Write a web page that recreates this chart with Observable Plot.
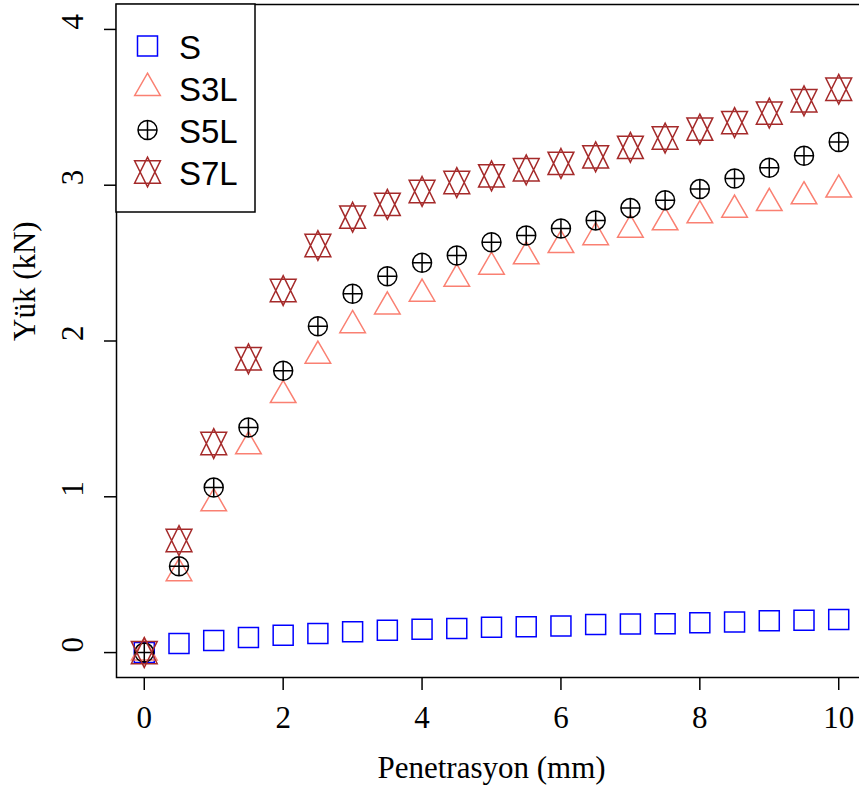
<!DOCTYPE html>
<html>
<head>
<meta charset="utf-8">
<script src="https://cdn.jsdelivr.net/npm/d3@7"></script>
<script src="https://cdn.jsdelivr.net/npm/@observablehq/plot@0.6"></script>
<style>
  html, body { margin: 0; padding: 0; background: white; overflow: hidden; }
  svg g[aria-label$="tick"] { stroke-width: 1.5; }
</style>
</head>
<body>
<div id="chart"></div>
<script>
// ---- data ----
const penetration = [0, 0.5, 1, 1.5, 2, 2.5, 3, 3.5, 4, 4.5, 5, 5.5, 6, 6.5, 7, 7.5, 8, 8.5, 9, 9.5, 10];
const seriesNames = ["S", "S3L", "S5L", "S7L"];
const valuesS   = [0, 0.058, 0.077, 0.096, 0.111, 0.122, 0.134, 0.143, 0.149, 0.154, 0.162, 0.165, 0.171, 0.180, 0.184, 0.185, 0.191, 0.196, 0.204, 0.207, 0.212];
const valuesS3L = [0, 0.509, 0.957, 1.323, 1.652, 1.905, 2.101, 2.221, 2.303, 2.399, 2.476, 2.543, 2.615, 2.666, 2.714, 2.761, 2.806, 2.842, 2.885, 2.928, 2.971];
const valuesS5L = [0, 0.554, 1.059, 1.445, 1.809, 2.095, 2.303, 2.416, 2.502, 2.549, 2.634, 2.677, 2.722, 2.774, 2.853, 2.904, 2.975, 3.043, 3.112, 3.189, 3.277];
const valuesS7L = [0, 0.719, 1.342, 1.886, 2.324, 2.613, 2.795, 2.877, 2.960, 3.017, 3.060, 3.099, 3.140, 3.182, 3.243, 3.303, 3.360, 3.402, 3.463, 3.542, 3.616];
const xTicks = [0, 2, 4, 6, 8, 10];
const yTicks = [0, 1, 2, 3, 4];
const xTitle = "Penetrasyon (mm)";
const yTitle = "Yük (kN)";
const seriesColors = ["#0000FF", "#FA8072", "#000000", "#A52A2A"];

// ---- R-like symbols ----
const symK = (size) => Math.sqrt(size / Math.PI);
const symSquare = { draw(ctx, size) { const s = symK(size); ctx.rect(-s, -s, 2 * s, 2 * s); } };
const symTriangle = { draw(ctx, size) {
  const s = symK(size) * 0.95, r = 1.5551 * s, xc = 1.3468 * s, yc = 0.7776 * s;
  ctx.moveTo(0, -r); ctx.lineTo(xc, yc); ctx.lineTo(-xc, yc); ctx.closePath();
} };
const symCirclePlus = { draw(ctx, size) {
  const s = symK(size) * 0.95;
  ctx.moveTo(s, 0); ctx.arc(0, 0, s, 0, 2 * Math.PI); ctx.closePath();
  ctx.moveTo(-s, 0); ctx.lineTo(s, 0); ctx.moveTo(0, -s); ctx.lineTo(0, s);
} };
const symStar = { draw(ctx, size) {
  const s = symK(size) * 0.96, r = 1.5551 * s, xc = 1.3468 * s, yc = 0.5 * (0.7776 * s + r);
  ctx.moveTo(0, r); ctx.lineTo(xc, -yc); ctx.lineTo(-xc, -yc); ctx.closePath();
  ctx.moveTo(0, -r); ctx.lineTo(xc, yc); ctx.lineTo(-xc, yc); ctx.closePath();
} };
const seriesSymbols = [symSquare, symTriangle, symCirclePlus, symStar];
const seriesValues = [valuesS, valuesS3L, valuesS5L, valuesS7L];

const rowsFor = (vals) => penetration.map((x, i) => ({ x, y: vals[i] }));

const serif = "'Liberation Serif', 'Times New Roman', serif";

const chart = Plot.plot({
  width: 859,
  height: 789,
  marginLeft: 116,
  marginTop: 4,
  marginBottom: 112,
  marginRight: -7,
  style: { background: "white", fontFamily: serif, color: "black", overflow: "hidden" },
  x: { domain: [-0.4, 10.4], ticks: xTicks, tickSize: 13, tickFormat: () => "", label: null },
  y: { domain: [-0.16, 4.16], ticks: yTicks, tickSize: 12, tickFormat: () => "", label: null },
  marks: [
    Plot.frame({ stroke: "black", strokeWidth: 1.5 }),
    ...seriesValues.map((vals, i) =>
      Plot.dot(rowsFor(vals), {
        x: "x", y: "y", r: 10, symbol: seriesSymbols[i],
        stroke: seriesColors[i], strokeWidth: 1.5, fill: "none"
      })
    ),
    Plot.text(xTicks, { x: (d) => d, frameAnchor: "bottom", dy: 41, text: (d) => String(d), fontSize: 31, lineAnchor: "middle", fontFamily: serif }),
    Plot.text(yTicks, { y: (d) => d, frameAnchor: "left", dx: -43, rotate: -90, text: (d) => String(d), fontSize: 31, lineAnchor: "middle", fontFamily: serif }),
    Plot.text([xTitle], { frameAnchor: "bottom", dy: 91, text: (d) => d, fontSize: 31, lineAnchor: "middle", fontFamily: serif }),
    Plot.text([yTitle], { frameAnchor: "left", dx: -91, rotate: -90, text: (d) => d, fontSize: 31, lineAnchor: "middle", fontFamily: serif })
  ]
});

document.getElementById("chart").appendChild(chart);

// ---- legend (top-left box, R style) ----
const svgSel = d3.select(chart);
const lg = svgSel.append("g").attr("aria-label", "legend");
const legLeft = 116, legTop = 4;
lg.append("rect")
  .attr("x", legLeft).attr("y", legTop).attr("width", 139).attr("height", 208)
  .attr("fill", "white").attr("stroke", "black").attr("stroke-width", 1.5);
seriesNames.forEach((name, i) => {
  const cy = legTop + 42 + i * 42;
  lg.append("path")
    .attr("transform", `translate(${legLeft + 31.5},${cy})`)
    .attr("d", d3.symbol(seriesSymbols[i], Math.PI * 100)())
    .attr("fill", "none").attr("stroke", seriesColors[i]).attr("stroke-width", 1.5);
  lg.append("text")
    .attr("x", legLeft + 63).attr("y", cy + 13)
    .attr("text-anchor", "start")
    .attr("font-family", "'Liberation Sans', Arial, sans-serif")
    .attr("font-size", 33).attr("fill", "black")
    .text(name);
});
</script>
</body>
</html>
